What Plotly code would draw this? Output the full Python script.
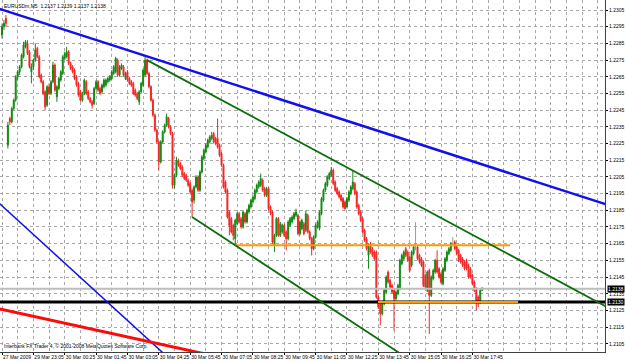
import plotly.graph_objects as go

# ---------------- data (EURUSDm, M5) ----------------
bar_open = [
 1.2290,1.2295,1.2300,1.2224,1.2240,1.2238,1.2246,1.2251,1.2265,1.2268,
 1.2271,1.2277,1.2283,1.2285,1.2280,1.2268,1.2271,1.2275,1.2282,1.2277,
 1.2266,1.2262,1.2256,1.2248,1.2259,1.2255,1.2262,1.2272,1.2253,1.2258,
 1.2263,1.2267,1.2276,1.2277,1.2280,1.2273,1.2271,1.2269,1.2265,1.2261,
 1.2256,1.2251,1.2255,1.2262,1.2256,1.2252,1.2250,1.2249,1.2258,1.2262,
 1.2258,1.2256,1.2259,1.2260,1.2262,1.2263,1.2264,1.2267,1.2268,1.2275,
 1.2266,1.2270,1.2271,1.2264,1.2268,1.2264,1.2262,1.2261,1.2257,1.2255,
 1.2250,1.2256,1.2260,1.2266,1.2275,1.2267,1.2259,1.2251,1.2242,1.2233,
 1.2226,1.2214,1.2226,1.2232,1.2236,1.2240,1.2235,1.2231,1.2200,1.2206,
 1.2215,1.2213,1.2211,1.2207,1.2206,1.2203,1.2201,1.2197,1.2191,1.2199,
 1.2205,1.2197,1.2208,1.2216,1.2220,1.2223,1.2226,1.2228,1.2231,1.2228,
 1.2228,1.2224,1.2219,1.2212,1.2202,1.2197,1.2184,1.2180,1.2176,1.2168,
 1.2177,1.2183,1.2180,1.2175,1.2183,1.2178,1.2184,1.2187,1.2190,1.2192,
 1.2196,1.2199,1.2200,1.2203,1.2198,1.2194,1.2198,1.2187,1.2184,1.2164,
 1.2170,1.2180,1.2170,1.2172,1.2176,1.2172,1.2168,1.2176,1.2178,1.2180,
 1.2182,1.2182,1.2171,1.2174,1.2177,1.2173,1.2182,1.2172,1.2168,1.2162,
 1.2169,1.2175,1.2174,1.2183,1.2191,1.2197,1.2200,1.2204,1.2206,1.2209,
 1.2202,1.2198,1.2196,1.2194,1.2192,1.2190,1.2187,1.2191,1.2195,1.2198,
 1.2201,1.2196,1.2188,1.2184,1.2180,1.2173,1.2168,1.2158,1.2165,1.2162,
 1.2160,1.2160,1.2133,1.2129,1.2123,1.2129,1.2136,1.2148,1.2143,1.2140,
 1.2137,1.2132,1.2135,1.2138,1.2153,1.2156,1.2162,1.2160,1.2157,1.2152,
 1.2159,1.2164,1.2163,1.2158,1.2156,1.2154,1.2146,1.2137,1.2149,1.2134,
 1.2144,1.2148,1.2155,1.2150,1.2147,1.2141,1.2149,1.2155,1.2159,1.2161,
 1.2165,1.2166,1.2163,1.2161,1.2158,1.2156,1.2154,1.2155,1.2152,1.2150,
 1.2146,1.2142,1.2138,1.2133,1.2130,1.2137]

bar_high = [
 1.2297,1.2299,1.2302,1.2238,1.2241,1.2247,1.2252,1.2266,1.2269,1.2272,
 1.2279,1.2286,1.2287,1.2287,1.2281,1.2273,1.2276,1.2285,1.2283,1.2278,
 1.2267,1.2263,1.2257,1.2260,1.2261,1.2263,1.2274,1.2273,1.2260,1.2265,
 1.2269,1.2278,1.2280,1.2283,1.2281,1.2274,1.2272,1.2270,1.2266,1.2262,
 1.2257,1.2256,1.2264,1.2263,1.2257,1.2253,1.2251,1.2259,1.2263,1.2263,
 1.2259,1.2261,1.2264,1.2264,1.2265,1.2266,1.2269,1.2272,1.2277,1.2276,
 1.2272,1.2273,1.2272,1.2268,1.2269,1.2265,1.2263,1.2262,1.2258,1.2256,
 1.2257,1.2262,1.2270,1.2277,1.2276,1.2268,1.2260,1.2252,1.2243,1.2234,
 1.2227,1.2227,1.2233,1.2237,1.2243,1.2241,1.2236,1.2232,1.2207,1.2217,
 1.2216,1.2214,1.2212,1.2208,1.2207,1.2204,1.2202,1.2198,1.2200,1.2206,
 1.2206,1.2209,1.2218,1.2222,1.2225,1.2228,1.2230,1.2232,1.2232,1.2229,
 1.2240,1.2225,1.2220,1.2213,1.2203,1.2198,1.2185,1.2181,1.2177,1.2180,
 1.2184,1.2184,1.2181,1.2185,1.2184,1.2186,1.2189,1.2192,1.2194,1.2198,
 1.2201,1.2203,1.2207,1.2204,1.2199,1.2199,1.2199,1.2188,1.2185,1.2171,
 1.2181,1.2181,1.2178,1.2177,1.2177,1.2173,1.2179,1.2181,1.2182,1.2184,
 1.2186,1.2183,1.2179,1.2180,1.2178,1.2185,1.2183,1.2173,1.2169,1.2170,
 1.2177,1.2179,1.2185,1.2193,1.2198,1.2202,1.2206,1.2208,1.2211,1.2210,
 1.2203,1.2199,1.2197,1.2195,1.2193,1.2191,1.2193,1.2197,1.2200,1.2209,
 1.2202,1.2197,1.2189,1.2185,1.2181,1.2174,1.2169,1.2165,1.2166,1.2163,
 1.2161,1.2161,1.2134,1.2130,1.2131,1.2138,1.2146,1.2149,1.2144,1.2141,
 1.2138,1.2137,1.2141,1.2156,1.2159,1.2161,1.2163,1.2161,1.2158,1.2161,
 1.2164,1.2178,1.2164,1.2159,1.2157,1.2155,1.2147,1.2149,1.2150,1.2146,
 1.2150,1.2156,1.2161,1.2151,1.2148,1.2151,1.2157,1.2161,1.2163,1.2166,
 1.2169,1.2167,1.2164,1.2162,1.2159,1.2157,1.2155,1.2156,1.2153,1.2151,
 1.2147,1.2143,1.2139,1.2134,1.2138,1.2139]

bar_low = [
 1.2288,1.2293,1.2295,1.2222,1.2236,1.2237,1.2245,1.2250,1.2263,1.2266,
 1.2270,1.2276,1.2282,1.2278,1.2270,1.2261,1.2269,1.2274,1.2276,1.2264,
 1.2261,1.2254,1.2245,1.2247,1.2254,1.2254,1.2261,1.2256,1.2250,1.2257,
 1.2262,1.2266,1.2275,1.2276,1.2272,1.2269,1.2267,1.2263,1.2259,1.2253,
 1.2250,1.2250,1.2254,1.2254,1.2251,1.2249,1.2246,1.2248,1.2257,1.2256,
 1.2254,1.2255,1.2258,1.2259,1.2261,1.2262,1.2263,1.2266,1.2267,1.2265,
 1.2265,1.2269,1.2265,1.2263,1.2262,1.2260,1.2259,1.2254,1.2253,1.2251,
 1.2248,1.2255,1.2259,1.2265,1.2266,1.2258,1.2250,1.2241,1.2232,1.2225,
 1.2209,1.2213,1.2225,1.2231,1.2235,1.2234,1.2230,1.2198,1.2198,1.2205,
 1.2211,1.2209,1.2205,1.2203,1.2202,1.2199,1.2195,1.2181,1.2189,1.2198,
 1.2196,1.2196,1.2207,1.2215,1.2219,1.2222,1.2225,1.2227,1.2225,1.2224,
 1.2222,1.2217,1.2211,1.2198,1.2195,1.2180,1.2170,1.2171,1.2167,1.2164,
 1.2176,1.2177,1.2174,1.2174,1.2177,1.2177,1.2183,1.2186,1.2189,1.2191,
 1.2195,1.2198,1.2199,1.2196,1.2193,1.2193,1.2185,1.2182,1.2165,1.2160,
 1.2169,1.2169,1.2169,1.2171,1.2169,1.2161,1.2167,1.2175,1.2177,1.2179,
 1.2181,1.2170,1.2170,1.2173,1.2170,1.2172,1.2171,1.2167,1.2158,1.2161,
 1.2168,1.2174,1.2173,1.2182,1.2190,1.2196,1.2199,1.2203,1.2205,1.2200,
 1.2196,1.2194,1.2192,1.2190,1.2186,1.2185,1.2186,1.2190,1.2194,1.2197,
 1.2194,1.2186,1.2182,1.2178,1.2171,1.2166,1.2161,1.2150,1.2159,1.2157,
 1.2155,1.2132,1.2126,1.2116,1.2122,1.2128,1.2135,1.2141,1.2138,1.2135,
 1.2113,1.2131,1.2134,1.2137,1.2152,1.2155,1.2157,1.2154,1.2148,1.2151,
 1.2158,1.2161,1.2155,1.2153,1.2151,1.2139,1.2138,1.2136,1.2111,1.2133,
 1.2143,1.2147,1.2147,1.2144,1.2141,1.2140,1.2148,1.2154,1.2158,1.2160,
 1.2164,1.2161,1.2158,1.2154,1.2153,1.2151,1.2149,1.2149,1.2144,1.2144,
 1.2140,1.2136,1.2125,1.2127,1.2129,1.2137]

bar_close = [
 1.2295,1.2297,1.2297,1.2236,1.2238,1.2246,1.2251,1.2265,1.2268,1.2271,
 1.2278,1.2284,1.2286,1.2279,1.2271,1.2271,1.2275,1.2281,1.2277,1.2265,
 1.2262,1.2255,1.2247,1.2259,1.2255,1.2262,1.2272,1.2257,1.2259,1.2264,
 1.2268,1.2277,1.2279,1.2280,1.2273,1.2270,1.2268,1.2264,1.2260,1.2254,
 1.2251,1.2255,1.2263,1.2255,1.2252,1.2250,1.2248,1.2258,1.2262,1.2257,
 1.2255,1.2260,1.2263,1.2263,1.2264,1.2265,1.2268,1.2271,1.2276,1.2266,
 1.2271,1.2272,1.2266,1.2267,1.2263,1.2261,1.2260,1.2255,1.2254,1.2252,
 1.2256,1.2261,1.2269,1.2275,1.2267,1.2259,1.2251,1.2242,1.2233,1.2226,
 1.2214,1.2226,1.2232,1.2236,1.2241,1.2235,1.2231,1.2200,1.2206,1.2215,
 1.2212,1.2210,1.2206,1.2204,1.2203,1.2200,1.2196,1.2190,1.2199,1.2205,
 1.2197,1.2208,1.2217,1.2221,1.2224,1.2227,1.2229,1.2230,1.2226,1.2225,
 1.2223,1.2218,1.2212,1.2199,1.2196,1.2181,1.2176,1.2172,1.2170,1.2179,
 1.2183,1.2178,1.2175,1.2184,1.2178,1.2185,1.2188,1.2191,1.2193,1.2197,
 1.2200,1.2202,1.2204,1.2197,1.2194,1.2198,1.2186,1.2183,1.2166,1.2170,
 1.2180,1.2170,1.2177,1.2176,1.2170,1.2168,1.2178,1.2180,1.2181,1.2183,
 1.2184,1.2171,1.2178,1.2179,1.2171,1.2183,1.2172,1.2168,1.2162,1.2169,
 1.2176,1.2178,1.2184,1.2192,1.2197,1.2201,1.2205,1.2207,1.2209,1.2201,
 1.2197,1.2195,1.2193,1.2191,1.2187,1.2186,1.2192,1.2196,1.2199,1.2202,
 1.2195,1.2187,1.2183,1.2179,1.2172,1.2167,1.2162,1.2164,1.2160,1.2158,
 1.2156,1.2133,1.2127,1.2123,1.2130,1.2137,1.2145,1.2142,1.2139,1.2136,
 1.2132,1.2136,1.2140,1.2155,1.2158,1.2160,1.2158,1.2155,1.2149,1.2160,
 1.2163,1.2164,1.2156,1.2154,1.2152,1.2140,1.2139,1.2148,1.2134,1.2145,
 1.2149,1.2155,1.2148,1.2145,1.2142,1.2150,1.2156,1.2160,1.2162,1.2165,
 1.2165,1.2162,1.2159,1.2155,1.2154,1.2152,1.2150,1.2150,1.2145,1.2145,
 1.2141,1.2137,1.2131,1.2130,1.2137,1.2138]

time_labels = ["27 Mar 2009", "29 Mar 23:05", "30 Mar 00:25", "30 Mar 01:45",
               "30 Mar 03:05", "30 Mar 04:25", "30 Mar 05:45", "30 Mar 07:05",
               "30 Mar 08:25", "30 Mar 09:45", "30 Mar 11:05", "30 Mar 12:25",
               "30 Mar 13:45", "30 Mar 15:05", "30 Mar 16:25", "30 Mar 17:45"]
label_bars = [0, 16, 32, 48, 64, 80, 96, 112, 128, 144, 160, 176, 192, 208, 224, 240]
grid_bars = [8, 24, 40, 56, 72, 88, 104, 120, 136, 152, 168, 184, 200, 216, 232, 248,
             256, 264, 272, 280, 288, 296, 304]

price_ticks = [1.2305, 1.2295, 1.2285, 1.2275, 1.2265, 1.2255, 1.2245, 1.2235,
               1.2225, 1.2215, 1.2205, 1.2195, 1.2185, 1.2175, 1.2165, 1.2155,
               1.2145, 1.2135, 1.2125, 1.2115, 1.2105]

# trend lines: anchor points (bar index, price)
trend_names = ["blue_main", "blue_steep", "red", "green_upper", "green_lower"]
trend_bar1 = [-1.02, -1.02, -1.02, 74.0, 97.0]
trend_price1 = [1.23056, 1.21888, 1.21259, 1.2275, 1.2181]
trend_bar2 = [307.65, 82.1, 101.0, 307.65, 202.0]
trend_price2 = [1.21888, 1.20996, 1.20996, 1.21277, 1.21001]

# horizontal levels
level_names = ["bid", "support", "orange_upper", "orange_lower"]
level_price = [1.2138, 1.2130, 1.2164, 1.2130]
level_from = [-1.02, -1.02, 118.9, 191.8]
level_to = [307.65, 307.65, 259.2, 263.3]

chart_title = "EURUSDm,M5  1.2137 1.2139 1.2137 1.2138"
footer = "Interbank FX Trader 4, \u00a9 2001-2008 MetaQuotes Software Corp."

# ---------------- figure ----------------
X_MIN, X_MAX = -1.02, 307.65
Y_MIN, Y_MAX = 1.21001, 1.23110
FONT = "Liberation Sans, Arial, sans-serif"
FS = 5

fig = go.Figure()

idx = list(range(len(bar_close)))
groups = {
    "up": [i for i in idx if round(bar_close[i] - bar_open[i], 5) > 0],
    "down": [i for i in idx if round(bar_close[i] - bar_open[i], 5) < 0],
    "doji": [i for i in idx if round(bar_close[i] - bar_open[i], 5) == 0],
}
colors = {"up": "#118a11", "down": "#f42525", "doji": "#9a9a9a"}


def add_level(name, color, width):
    k = level_names.index(name)
    fig.add_trace(go.Scatter(x=[level_from[k], level_to[k]], y=[level_price[k]] * 2,
                             mode="lines", line=dict(color=color, width=width),
                             hoverinfo="skip", showlegend=False))


add_level("bid", "#bdbdbd", 2)

for g, ids in groups.items():
    c = colors[g]
    fig.add_trace(go.Candlestick(
        x=[idx[i] for i in ids],
        open=[bar_open[i] for i in ids],
        high=[bar_high[i] for i in ids],
        low=[bar_low[i] for i in ids],
        close=[bar_close[i] for i in ids],
        increasing=dict(line=dict(color=c, width=1), fillcolor=c),
        decreasing=dict(line=dict(color=c, width=1), fillcolor=c),
        whiskerwidth=0, showlegend=False, hoverinfo="skip"))

add_level("support", "#000000", 3)
add_level("orange_upper", "#ff9a00", 2)
add_level("orange_lower", "#ff9a00", 2)

trend_style = {
    "blue_main": ("#1010ee", 2.5, True, True),
    "blue_steep": ("#1010ee", 1.5, True, True),
    "red": ("#ff0a0a", 3, True, True),
    "green_upper": ("#0b6e0b", 1.8, False, True),
    "green_lower": ("#0b6e0b", 1.8, False, True),
}
for k, name in enumerate(trend_names):
    color, width, ext_l, ext_r = trend_style[name]
    b1, p1, b2, p2 = trend_bar1[k], trend_price1[k], trend_bar2[k], trend_price2[k]
    slope = (p2 - p1) / (b2 - b1)
    x0 = X_MIN - 20 if ext_l else b1
    x1 = X_MAX + 20 if ext_r else b2
    fig.add_trace(go.Scatter(x=[x0, x1], y=[p1 + slope * (x0 - b1), p1 + slope * (x1 - b1)],
                             mode="lines", line=dict(color=color, width=width),
                             hoverinfo="skip", showlegend=False))

fig.update_layout(
    width=625, height=362,
    margin=dict(l=0, r=20, t=0, b=10, autoexpand=False),
    paper_bgcolor="white", plot_bgcolor="white",
    font=dict(family=FONT, size=FS, color="black"),
    showlegend=False,
    xaxis=dict(range=[X_MIN, X_MAX], tickmode="array", tickvals=label_bars,
               ticktext=time_labels, ticklabelposition="outside right",
               tickangle=0, automargin=False,
               ticks="outside", ticklen=2, tickcolor="black",
               showgrid=True, gridcolor="#a8a8a8", griddash="dot", gridwidth=1,
               minor=dict(tickvals=grid_bars, showgrid=True,
                          gridcolor="#a8a8a8", griddash="dot", gridwidth=1, ticks=""),
               showline=True, linecolor="#404040", linewidth=1, zeroline=False,
               rangeslider=dict(visible=False), tickfont=dict(size=FS)),
    yaxis=dict(range=[Y_MIN, Y_MAX], side="right", tickmode="array",
               tickvals=price_ticks, ticktext=[f"{p:.4f}" for p in price_ticks],
               automargin=False,
               ticks="outside", ticklen=2, tickcolor="black",
               showgrid=True, gridcolor="#a8a8a8", griddash="dot", gridwidth=1,
               showline=True, linecolor="#404040", linewidth=1, zeroline=False,
               tickfont=dict(size=FS)),
)

fig.add_annotation(x=0.004, y=1.0, xref="paper", yref="paper", xanchor="left",
                   yanchor="top", text=chart_title, showarrow=False,
                   font=dict(size=FS, color="black"), yshift=-1)
fig.add_annotation(x=0.004, y=0.0, xref="paper", yref="paper", xanchor="left",
                   yanchor="bottom", text=footer, showarrow=False,
                   font=dict(size=FS, color="black"), yshift=1)
for p in [level_price[0], level_price[1]]:
    fig.add_annotation(x=1.0, y=p, xref="paper", yref="y", xanchor="left",
                       yanchor="middle", text=f"{p:.4f}", showarrow=False,
                       bgcolor="black", font=dict(size=FS, color="white"),
                       borderpad=0, xshift=2)

fig.write_html("out.html")
